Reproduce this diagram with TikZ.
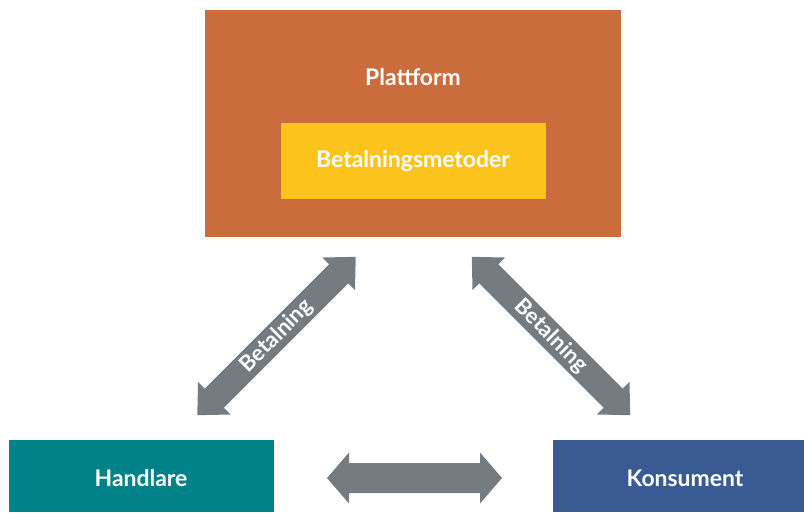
\documentclass[tikz,border=0pt]{standalone}
\usepackage{fontspec}
\setmainfont{Lato}
\definecolor{platorange}{RGB}{202,108,59}
\definecolor{payyellow}{RGB}{253,195,29}
\definecolor{merchteal}{RGB}{0,130,136}
\definecolor{consblue}{RGB}{58,90,148}
\definecolor{arrowgray}{RGB}{116,124,130}
\tikzset{
  box/.style={draw=none, inner sep=0pt, outer sep=0pt, text=white, font=\bfseries\fontsize{17.2}{19}\selectfont},
  arrowlabel/.style={text=white, inner sep=0pt, font=\bfseries\fontsize{16.5}{18}\selectfont},
  pics/dblarrow/.style n args={4}{code={
    \fill[arrowgray] (-#1/2,0) -- (-#1/2+#2,#3) -- (-#1/2+#2,#4) -- (#1/2-#2,#4) -- (#1/2-#2,#3) -- (#1/2,0)
      -- (#1/2-#2,-#3) -- (#1/2-#2,-#4) -- (-#1/2+#2,-#4) -- (-#1/2+#2,-#3) -- cycle;
  }}
}
\begin{document}
\begin{tikzpicture}[x=0.75pt,y=-0.75pt]
\useasboundingbox (0,0) rectangle (804,512);
% boxes
\node[box, fill=platorange, minimum width=416*0.75pt, minimum height=227*0.75pt, anchor=north west] (plat) at (205,10) {};
\node[box, anchor=center] (platlabel) at (413,77) {Plattform};
\node[box, fill=payyellow, minimum width=265*0.75pt, minimum height=76*0.75pt, anchor=north west] (pay) at (281,123) {};
\node[box] (paylabel) at (413,161) {Betalningsmetoder};
\node[box, fill=merchteal, minimum width=265*0.75pt, minimum height=72*0.75pt, anchor=north west] (merch) at (9,440) {};
\node[box] (merchlabel) at (141,478) {Handlare};
\node[box, fill=consblue, minimum width=251*0.75pt, minimum height=72*0.75pt, anchor=north west] (cons) at (553,440) {};
\node[box] (conslabel) at (685,478) {Konsument};
% arrows
\coordinate (leftmid) at (276.5,336);
\coordinate (rightmid) at (551,336);
\coordinate (bottommid) at (414.5,478);
\pic[rotate=45] at (leftmid) {dblarrow={224}{24}{23}{13.5}};
\pic[rotate=-45] at (rightmid) {dblarrow={224}{24}{23}{13.5}};
\pic at (bottommid) {dblarrow={175}{22}{25.5}{15}};
\node[arrowlabel, rotate=45] (leftlabel) at (leftmid) {Betalning};
\node[arrowlabel, rotate=-45] (rightlabel) at (rightmid) {Betalning};
\end{tikzpicture}
\end{document}
